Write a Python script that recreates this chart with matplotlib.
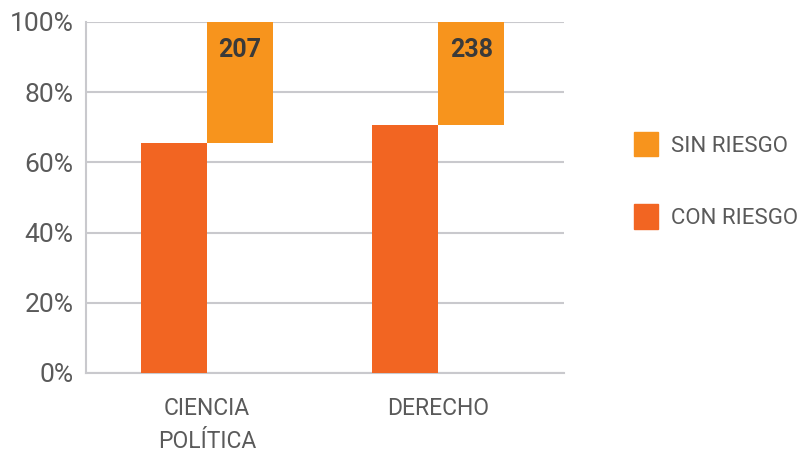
import numpy as np
import matplotlib
matplotlib.use("Agg")
import matplotlib.pyplot as plt
from matplotlib.patches import Patch

# datos (porcentajes)
categorias = ["CIENCIA\nPOLÍTICA", "DERECHO"]
con_riesgo = [65.5, 70.7]
sin_riesgo = [34.5, 29.3]
etiquetas_sin = ["207", "238"]
yticks = [0, 20, 40, 60, 80, 100]

C_CON = "#F26522"
C_SIN = "#F7941D"
GRIS = "#C9C9CD"
TXT = "#5A5A5A"
FAM = ["Roboto", "DejaVu Sans"]

fig = plt.figure(figsize=(8.09, 4.58), dpi=100)
ax = fig.add_axes([0.1063, 0.1856, 0.5909, 0.7664])

x = np.arange(len(categorias))
w = 0.286
ax.bar(x - w/2, con_riesgo, width=w, color=C_CON, zorder=3)
ax.bar(x + w/2, sin_riesgo, width=w, bottom=con_riesgo, color=C_SIN, zorder=3)
for xi, lab in zip(x, etiquetas_sin):
    ax.text(xi + w/2, 92, lab, ha="center", va="center", fontsize=18,
            fontweight="bold", color="#3A3A3A", family=FAM, zorder=4)

ax.set_xlim(-0.524, 1.545)
ax.set_ylim(0, 100)
ax.set_yticks(yticks)
ax.set_yticklabels(["%d%%" % v for v in yticks], fontsize=19, color=TXT,
                   family=FAM)
ax.set_xticks(x)
ax.set_xticklabels(categorias, fontsize=16.5, color=TXT, family=FAM,
                   linespacing=1.6)
ax.tick_params(axis="both", length=0)
ax.tick_params(axis="y", pad=9)
ax.tick_params(axis="x", pad=17)
ax.grid(axis="y", color=GRIS, lw=1.5, zorder=0)
for s in ["top", "right"]:
    ax.spines[s].set_visible(False)
for s in ["left", "bottom"]:
    ax.spines[s].set_color(GRIS)
    ax.spines[s].set_linewidth(1.5)

handles = [Patch(color=C_SIN, label="SIN RIESGO"), Patch(color=C_CON, label="CON RIESGO")]
fig.legend(handles=handles, loc="center left", bbox_to_anchor=(0.773, 0.606),
           frameon=False, handlelength=1.05, handleheight=1.3, handletextpad=0.6,
           labelspacing=2.15, borderaxespad=0,
           prop={"family": FAM, "size": 16}, labelcolor=TXT)

fig.savefig("out.png", dpi=100)
